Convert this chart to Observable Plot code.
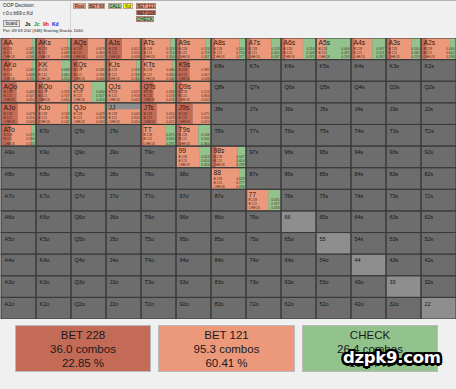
<!DOCTYPE html>
<html><head><meta charset="utf-8">
<script src="https://cdn.jsdelivr.net/npm/d3@7"></script>
<script src="https://cdn.jsdelivr.net/npm/@observablehq/plot@0.6"></script>
<style>
html,body{margin:0;padding:0}
body{background:#f0f0f0;font-family:"Liberation Sans",Arial,sans-serif;width:456px;height:389px;overflow:hidden;position:relative}
.abs{position:absolute;white-space:nowrap}
#grid{position:absolute;left:0;top:38px}
.btn{position:absolute;font-size:4.5px;line-height:5.5px;text-align:center;color:#222;border:0.5px solid #999;box-sizing:border-box}
.lbox{position:absolute;top:325px;height:47px;box-sizing:border-box;border:1px solid #b9b9b9;text-align:center;font-size:11.5px;line-height:14px;color:#1a1a1a;padding-top:2px}
#wm{position:absolute;left:343px;top:348px;font-family:"DejaVu Sans",sans-serif;font-weight:bold;font-size:16.5px;color:#fff;letter-spacing:-0.3px;
text-shadow:-2px -2px 0 #000,2px -2px 0 #000,-2px 2px 0 #000,2px 2px 0 #000,0 -2.5px 0 #000,0 2.5px 0 #000,-2.5px 0 0 #000,2.5px 0 0 #000}
</style></head><body>
<div id="header"></div>
<div id="grid"></div>
<div id="legend"></div>
<div id="wm">dzpk9.com</div>
<script>
// ---- data ----
const ranks = ["A","K","Q","J","T","9","8","7","6","5","4","3","2"];
const actions = ["BET 228","BET 121","CHECK"];
const shortActions = ["B 228","B 121","CHECK"];
const actionColors = ["#c46b57","#ec997b","#93c38c"];
const rangeHands = ["AA","AKs","AQs","AJs","ATs","A9s","A8s","A7s","A6s","A5s","A4s","A3s","A2s",
  "AKo","KK","KQs","KJs","KTs","K9s",
  "AQo","KQo","QQ","QJs","QTs","Q9s",
  "AJo","KJo","QJo","JJ","JTs","J9s",
  "ATo","TT","T9s",
  "99","98s",
  "88",
  "77"];
const bet228 = [0.245,0.253,0.479,0.452,0.124,0.124,0.105,0.128,0.116,0.004,0.097,0.140,0.160,
  0.241,0.086,0.188,0.118,0.080,0.385,
  0.443,0.192,0.030,0.037,0.354,0.154,
  0.478,0.118,0.029,0.044,0.450,0.475,
  0.271,0.075,0.136,
  0.024,0.147,
  0.029,
  0.045];
const bet121 = [0.649,0.649,0.484,0.510,0.720,0.729,0.718,0.605,0.508,0.287,0.511,0.582,0.642,
  0.648,0.660,0.766,0.748,0.820,0.567,
  0.547,0.747,0.557,0.918,0.570,0.804,
  0.516,0.781,0.928,0.906,0.529,0.500,
  0.594,0.634,0.500,
  0.650,0.614,
  0.777,
  0.597];
const check = [0.106,0.098,0.037,0.038,0.156,0.147,0.177,0.267,0.376,0.709,0.392,0.278,0.198,
  0.111,0.254,0.046,0.134,0.100,0.048,
  0.010,0.061,0.413,0.045,0.076,0.042,
  0.006,0.101,0.043,0.050,0.021,0.025,
  0.135,0.291,0.364,
  0.326,0.239,
  0.194,
  0.358];
const weight = [1,1,1,1,1,1,1,1,1,1,1,1,1,
  1,1,1,1,1,1,
  1,1,1,1,1,1,
  1,1,1,0.7,1,1,
  1,1,1,
  1,1,
  1,
  1];
const totalCombos = ["36.0","95.3","26.4"];
const totalPct = ["22.85","60.41","16.74"];
const headerLines = ["OOP Decision:","r:0:c:b69:c:Kd","Pot: 69 69 200 (348) Starting Stacks 1060"];
const boardCards = ["Js","Jc","9h","Kd"];
const suitColors = {s:"#000000",c:"#109010",h:"#e01010",d:"#1020d0"};
const pathButtons = ["Root","BET 69","CALL","Kd"];
const pathColors = ["#ec997b","#ec997b","#93c38c","#ffff00"];

// ---- build cells ----
const cells = [];
for (let r = 0; r < 13; r++) for (let c = 0; c < 13; c++) {
  const name = r === c ? ranks[r] + ranks[c] : c > r ? ranks[r] + ranks[c] + "s" : ranks[c] + ranks[r] + "o";
  const i = rangeHands.indexOf(name);
  cells.push({row: r, col: c, name, pair: r === c, idx: i});
}
const inRange = cells.filter(d => d.idx >= 0);
const segs = [];
for (const d of inRange) {
  const f = [bet228[d.idx], bet121[d.idx], check[d.idx]];
  let cum = 0;
  f.forEach((v, k) => {
    segs.push({row: d.row, col: d.col, a: k, x1: d.col + cum, x2: d.col + cum + v, w: weight[d.idx]});
    cum += v;
  });
}
const numRows = [];
for (const d of inRange) {
  const f = [bet228[d.idx], bet121[d.idx], check[d.idx]];
  f.forEach((v, k) => numRows.push({row: d.row, col: d.col, k, label: shortActions[k], val: v.toFixed(3)}));
}
const numMarks = [0, 1, 2].flatMap(k => {
  const rows = numRows.filter(d => d.k === k);
  const dy = 10.3 + k * 4.1;
  return [
    Plot.text(rows, {x: "col", y: "row", text: "label", dx: 2, dy, textAnchor: "start", fontSize: 3.3, fill: "#4a2a20"}),
    Plot.text(rows, {x: d => d.col + 1, y: "row", text: "val", dx: -2, dy, textAnchor: "end", fontSize: 3.3, fill: "#4a2a20"})
  ];
});

const chart = Plot.plot({
  width: 456, height: 281,
  marginLeft: 1, marginRight: 0, marginTop: 0, marginBottom: 0,
  x: {type: "linear", domain: [0, 13], range: [1, 456], axis: null},
  y: {type: "linear", domain: [0, 13], range: [0, 281], axis: null},
  style: {background: "transparent", fontFamily: "Liberation Sans, Arial, sans-serif"},
  marks: [
    Plot.rect(cells, {x1: "col", x2: d => d.col + 1, y1: "row", y2: d => d.row + 1, fill: d => d.pair ? "#8e8e8e" : "#6d6d6d"}),
    Plot.rect(segs, {x1: "x1", x2: "x2", y1: d => d.row + 1 - d.w, y2: d => d.row + 1, fill: d => actionColors[d.a]}),
    Plot.rect(cells, {x1: "col", x2: d => d.col + 1, y1: "row", y2: d => d.row + 1, fill: "none", stroke: "#3a3a3a", strokeWidth: 1}),
    Plot.text(cells.filter(d => d.idx < 0), {x: "col", y: "row", text: "name", dx: 3, dy: 6, textAnchor: "start", fontSize: 5.5, fill: "#151515"}),
    Plot.text(inRange, {x: "col", y: "row", text: "name", dx: 2, dy: 4.6, textAnchor: "start", fontSize: 6.8, fill: "#2a1a14"}),
    ...numMarks
  ]
});
document.getElementById("grid").appendChild(chart);

// ---- header ----
const hdr = document.getElementById("header");
let h = "";
h += `<div class="abs" style="left:0;top:0;width:456px;height:37px;border-top:1px solid #b4b4b4"></div>`;
h += `<div class="abs" style="left:70px;top:1px;width:1px;height:35px;background:#d6d6d6"></div>`;
h += `<div class="abs" style="left:3px;top:3px;font-size:4.8px;color:#222">${headerLines[0]}</div>`;
h += `<div class="abs" style="left:3px;top:11px;font-size:4.8px;color:#222">${headerLines[1]}</div>`;
h += `<div class="btn" style="left:3px;top:19.5px;width:17px;height:7px;background:#e4e4e4;line-height:6.5px">board</div>`;
boardCards.forEach((c, i) => {
  h += `<div class="abs" style="left:${25 + i * 9}px;top:20.5px;font-size:5px;font-weight:bold;color:${suitColors[c[1]]}">${c}</div>`;
});
h += `<div class="abs" style="left:3px;top:28px;font-size:4.3px;color:#222">${headerLines[2]}</div>`;
const bx = [73, 88, 108, 123], bw = [13, 17, 14, 10];
pathButtons.forEach((b, i) => {
  h += `<div class="btn" style="left:${bx[i]}px;top:3px;width:${bw[i]}px;height:5.5px;background:${pathColors[i]};border-color:#c0a090">${b}</div>`;
});
const ay = [3, 9.5, 16];
const aOrder = [1, 0, 2];
aOrder.forEach((k, j) => {
  h += `<div class="btn" style="left:136px;top:${ay[j]}px;width:${k === 2 ? 18 : 20}px;height:5.5px;background:${actionColors[k]};border-color:#b08070">${actions[k]}</div>`;
});
hdr.innerHTML = h;

// ---- legend ----
const lg = document.getElementById("legend");
const lx = [15, 158, 302], lw = [136, 137, 136];
lg.innerHTML = actions.map((a, i) =>
  `<div class="lbox" style="left:${lx[i]}px;width:${lw[i]}px;background:${actionColors[i]}">${a}<br>${totalCombos[i]} combos<br>${totalPct[i]} %</div>`
).join("");
</script>
</body></html>
